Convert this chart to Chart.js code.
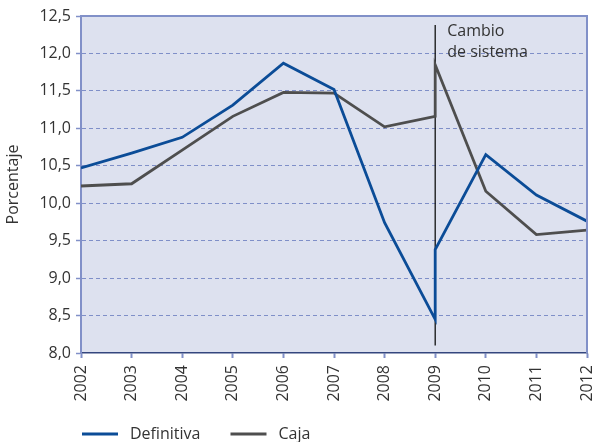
<!DOCTYPE html>
<html>
<head>
<meta charset="utf-8">
<script src="https://cdn.jsdelivr.net/npm/chart.js@4/dist/chart.umd.min.js"></script>
<style>
html,body{margin:0;padding:0;background:#fff;}
#wrap{width:596px;height:442px;}
</style>
</head>
<body>
<div id="wrap"><canvas id="c" width="596" height="442"></canvas></div>
<script>
const years = [2002, 2003, 2004, 2005, 2006, 2007, 2008, 2009, 2009, 2010, 2011, 2012];
const definitiva = [10.47, 10.67, 10.88, 11.31, 11.87, 11.52, 9.74, 8.45, 9.38, 10.65, 10.11, 9.76];
const caja = [10.23, 10.26, 10.71, 11.16, 11.48, 11.47, 11.02, 11.16, 11.85, 10.16, 9.58, 9.64];
const seriesLabels = ['Definitiva', 'Caja'];
const yTicks = [8.0, 8.5, 9.0, 9.5, 10.0, 10.5, 11.0, 11.5, 12.0, 12.5];
const changeYear = 2009;
const changeRange = [8.1, 12.38];
const changeText = ['Cambio', 'de sistema'];
const yTitle = 'Porcentaje';

const FONT = '"Open Sans", "Noto Sans", sans-serif';
const TXT = '#333333';
const AXIS = '#8190c8';

const toPts = (ys) => ys.map((v, i) => ({x: years[i], y: v}));

const bgPlugin = {
  id: 'bg',
  beforeDraw(chart) {
    const a = chart.chartArea, ctx = chart.ctx;
    ctx.save();
    ctx.fillStyle = '#dde1ef';
    ctx.fillRect(a.left, a.top, a.right - a.left, a.bottom - a.top);
    ctx.restore();
  },
  afterDraw(chart) {
    const a = chart.chartArea, ctx = chart.ctx;
    ctx.save();
    ctx.strokeStyle = AXIS;
    ctx.lineWidth = 2;
    ctx.beginPath();
    ctx.moveTo(a.left, a.top);
    ctx.lineTo(a.right, a.top);
    ctx.lineTo(a.right, a.bottom);
    ctx.stroke();
    // legend
    ctx.font = '16px ' + FONT;
    ctx.textBaseline = 'middle';
    ctx.textAlign = 'left';
    let x = 82;
    const y = 434;
    chart.data.datasets.forEach(ds => {
      ctx.strokeStyle = ds.borderColor;
      ctx.lineWidth = 3;
      ctx.beginPath();
      ctx.moveTo(x, y);
      ctx.lineTo(x + 36, y);
      ctx.stroke();
      ctx.fillStyle = TXT;
      ctx.fillText(ds.label, x + 48, y);
      x += 48 + ctx.measureText(ds.label).width + 30;
    });
    ctx.restore();
  },
  beforeDatasetsDraw(chart) {
    const xs = chart.scales.x, ys = chart.scales.y, ctx = chart.ctx;
    const px = xs.getPixelForValue(changeYear);
    ctx.save();
    ctx.strokeStyle = '#111111';
    ctx.lineWidth = 1.3;
    ctx.beginPath();
    ctx.moveTo(px, ys.getPixelForValue(changeRange[0]));
    ctx.lineTo(px, ys.getPixelForValue(changeRange[1]));
    ctx.stroke();
    ctx.fillStyle = TXT;
    ctx.font = '16px ' + FONT;
    ctx.textBaseline = 'middle';
    ctx.textAlign = 'left';
    ctx.fillText(changeText[0], px + 12, 31);
    ctx.fillText(changeText[1], px + 12, 52);
    ctx.restore();
  }
};

new Chart(document.getElementById('c'), {
  type: 'line',
  data: {
    datasets: [
      {label: seriesLabels[0], data: toPts(definitiva), borderColor: '#0b4c97', backgroundColor: '#0b4c97', borderWidth: 2.8, pointRadius: 0, tension: 0, borderJoinStyle: 'miter'},
      {label: seriesLabels[1], data: toPts(caja), borderColor: '#4e4e4e', backgroundColor: '#4e4e4e', borderWidth: 2.8, pointRadius: 0, tension: 0, borderJoinStyle: 'miter'}
    ]
  },
  options: {
    responsive: false,
    animation: false,
    layout: {padding: {top: 16, right: 9, bottom: 0, left: 0}},
    plugins: {legend: {display: false}, tooltip: {enabled: false}},
    scales: {
      x: {
        type: 'linear',
        min: 2002, max: 2012,
        afterFit(s) { s.height = 89; s.paddingLeft = 0; s.paddingRight = 0; },
        afterBuildTicks(s) { s.ticks = years.filter((v, i) => years.indexOf(v) === i).map(v => ({value: v})); },
        ticks: {
          stepSize: 1, autoSkip: false, maxRotation: 90, minRotation: 90,
          color: TXT, font: {family: FONT, size: 16}, padding: 7,
          callback: v => String(v)
        },
        grid: {drawOnChartArea: false, drawTicks: true, tickLength: 5, tickColor: AXIS, tickWidth: 2},
        border: {color: '#34467e', width: 1.5}
      },
      y: {
        min: 8, max: 12.5,
        afterFit(s) { s.width = 81; s.paddingTop = 0; s.paddingBottom = 0; },
        afterBuildTicks(s) { s.ticks = yTicks.map(v => ({value: v})); },
        ticks: {
          color: TXT, font: {family: FONT, size: 16}, padding: 5,
          callback: v => Number(v).toFixed(1).replace('.', ',')
        },
        grid: {
          color: c => (c.tick && (c.tick.value === 8 || c.tick.value === 12.5)) ? 'rgba(0,0,0,0)' : '#7f8fc8',
          lineWidth: 1, drawTicks: true, tickLength: 5, tickColor: AXIS, tickWidth: 1.5
        },
        border: {color: AXIS, width: 2, dash: [4, 3]},
        title: {display: true, text: yTitle, color: TXT, font: {family: FONT, size: 16}, padding: {top: 4, bottom: 0}}
      }
    }
  },
  plugins: [bgPlugin]
});
</script>
</body>
</html>
